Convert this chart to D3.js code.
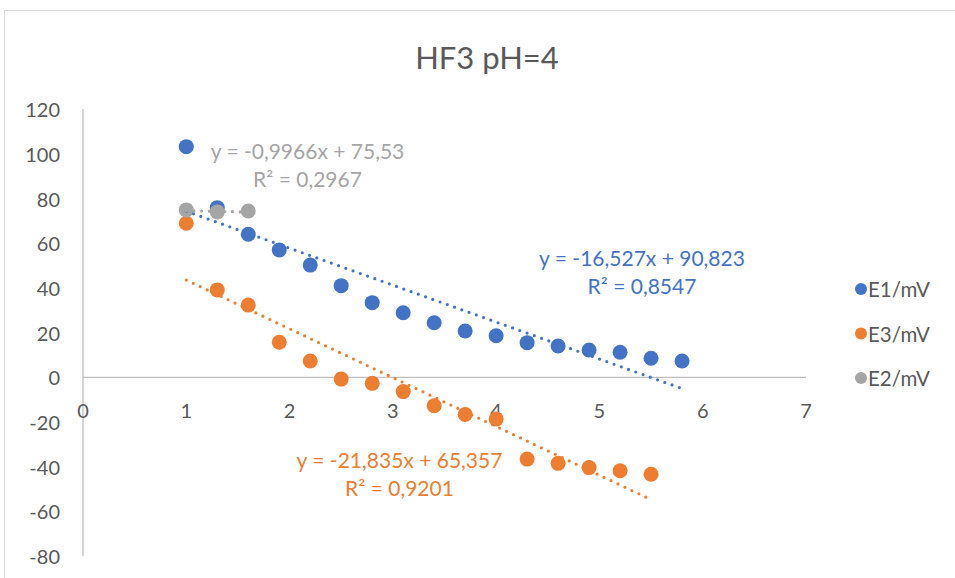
<!DOCTYPE html>
<html>
<head>
<meta charset="utf-8">
<script src="https://cdn.jsdelivr.net/npm/d3@7"></script>
<style>
  html, body { margin: 0; padding: 0; background: #fff; }
  svg { display: block; font-family: Lato, "Open Sans", sans-serif; }
</style>
</head>
<body>
<svg id="chart" width="955" height="578"></svg>
<script>
// ---- data ----
const xE1 = [1, 1.3, 1.6, 1.9, 2.2, 2.5, 2.8, 3.1, 3.4, 3.7, 4.0, 4.3, 4.6, 4.9, 5.2, 5.5, 5.8];
const yE1 = [103.2, 75.9, 64.0, 57.0, 50.2, 41.0, 33.4, 28.9, 24.4, 20.7, 18.6, 15.5, 14.0, 12.2, 11.2, 8.5, 7.3];
const xE3 = [1, 1.3, 1.6, 1.9, 2.2, 2.5, 2.8, 3.1, 3.4, 3.7, 4.0, 4.3, 4.6, 4.9, 5.2, 5.5];
const yE3 = [68.9, 39.1, 32.3, 15.7, 7.3, -0.8, -2.7, -6.4, -12.7, -16.6, -18.7, -36.6, -38.5, -40.4, -41.8, -43.4];
const xE2 = [1, 1.3, 1.6];
const yE2 = [74.9, 74.0, 74.4];

const seriesNames = ["E1/mV", "E3/mV", "E2/mV"];
const seriesColors = ["#4472C4", "#ED7D31", "#A5A5A5"];
// trendline coefficients (slope, intercept) and labels
const trendSlopes = [-16.527, -21.835, -0.9966];
const trendIntercepts = [90.823, 65.357, 75.53];
const trendEqLabels = ["y = -16,527x + 90,823", "y = -21,835x + 65,357", "y = -0,9966x + 75,53"];
const trendR2Labels = ["R² = 0,8547", "R² = 0,9201", "R² = 0,2967"];

const xTicks = [0, 1, 2, 3, 4, 5, 6, 7];
const yTicks = [-80, -60, -40, -20, 0, 20, 40, 60, 80, 100, 120];
const title = "HF3 pH=4";

// ---- layout ----
const svg = d3.select("#chart");
const x = d3.scaleLinear().domain([0, 7]).range([83, 806]);
const y = d3.scaleLinear().domain([-80, 120]).range([556.1, 109.1]);

// chart border
svg.append("rect").attr("x", 4.5).attr("y", 10.5).attr("width", 1000).attr("height", 1000)
  .attr("fill", "none").attr("stroke", "#D9D9D9").attr("stroke-width", 1);

// title
svg.append("text").attr("x", 487).attr("y", 57).attr("text-anchor", "middle")
  .attr("dominant-baseline", "central").attr("font-size", 31).attr("fill", "#595959").text(title);

// axes lines
const axisColor = "#BFBFBF";
svg.append("line").attr("x1", x(0)).attr("x2", x(0)).attr("y1", y(120)).attr("y2", y(-80))
  .attr("stroke", axisColor).attr("stroke-width", 1.3);
svg.append("line").attr("x1", x(0)).attr("x2", x(7)).attr("y1", y(0)).attr("y2", y(0))
  .attr("stroke", axisColor).attr("stroke-width", 1.3);

// y tick labels
svg.append("g").selectAll("text").data(yTicks).join("text")
  .attr("x", 60).attr("y", d => y(d)).attr("text-anchor", "end").attr("dominant-baseline", "central")
  .attr("font-size", 20).attr("fill", "#595959").text(d => d);

// x tick labels
svg.append("g").selectAll("text").data(xTicks).join("text")
  .attr("x", d => x(d)).attr("y", 410).attr("text-anchor", "middle").attr("dominant-baseline", "central")
  .attr("font-size", 20).attr("fill", "#595959").text(d => d);

// points
const allSeries = [
  {xs: xE1, ys: yE1}, {xs: xE3, ys: yE3}, {xs: xE2, ys: yE2}
];
allSeries.forEach((s, i) => {
  const pts = s.xs.map((xv, j) => [xv, s.ys[j]]);
  svg.append("g").selectAll("circle").data(pts).join("circle")
    .attr("cx", d => x(d[0])).attr("cy", d => y(d[1])).attr("r", 7.5)
    .attr("fill", seriesColors[i]);
});

// trendlines
allSeries.forEach((s, i) => {
  const x0 = d3.min(s.xs), x1 = d3.max(s.xs);
  const f = v => trendSlopes[i] * v + trendIntercepts[i];
  svg.append("line")
    .attr("x1", x(x0)).attr("y1", y(f(x0))).attr("x2", x(x1)).attr("y2", y(f(x1)))
    .attr("stroke", seriesColors[i]).attr("stroke-width", 3.2)
    .attr("stroke-linecap", "round").attr("stroke-dasharray", "0 7.7");
});

// trendline labels
const labelPos = [[642, 257.5, 285.7], [399.5, 459, 487.7], [307.5, 150.7, 178.2]];
labelPos.forEach((p, i) => {
  svg.append("text").attr("x", p[0]).attr("y", p[1]).attr("text-anchor", "middle")
    .attr("dominant-baseline", "central").attr("font-size", 21).attr("fill", seriesColors[i])
    .text(trendEqLabels[i]);
  svg.append("text").attr("x", p[0]).attr("y", p[2]).attr("text-anchor", "middle")
    .attr("dominant-baseline", "central").attr("font-size", 21).attr("fill", seriesColors[i])
    .text(trendR2Labels[i]);
});

// legend
const legY = [289, 333.5, 378];
seriesNames.forEach((n, i) => {
  svg.append("circle").attr("cx", 861).attr("cy", legY[i]).attr("r", 6).attr("fill", seriesColors[i]);
  svg.append("text").attr("x", 868).attr("y", legY[i]).attr("dominant-baseline", "central")
    .attr("font-size", 20.5).attr("fill", "#595959").text(n);
});
</script>
</body>
</html>
